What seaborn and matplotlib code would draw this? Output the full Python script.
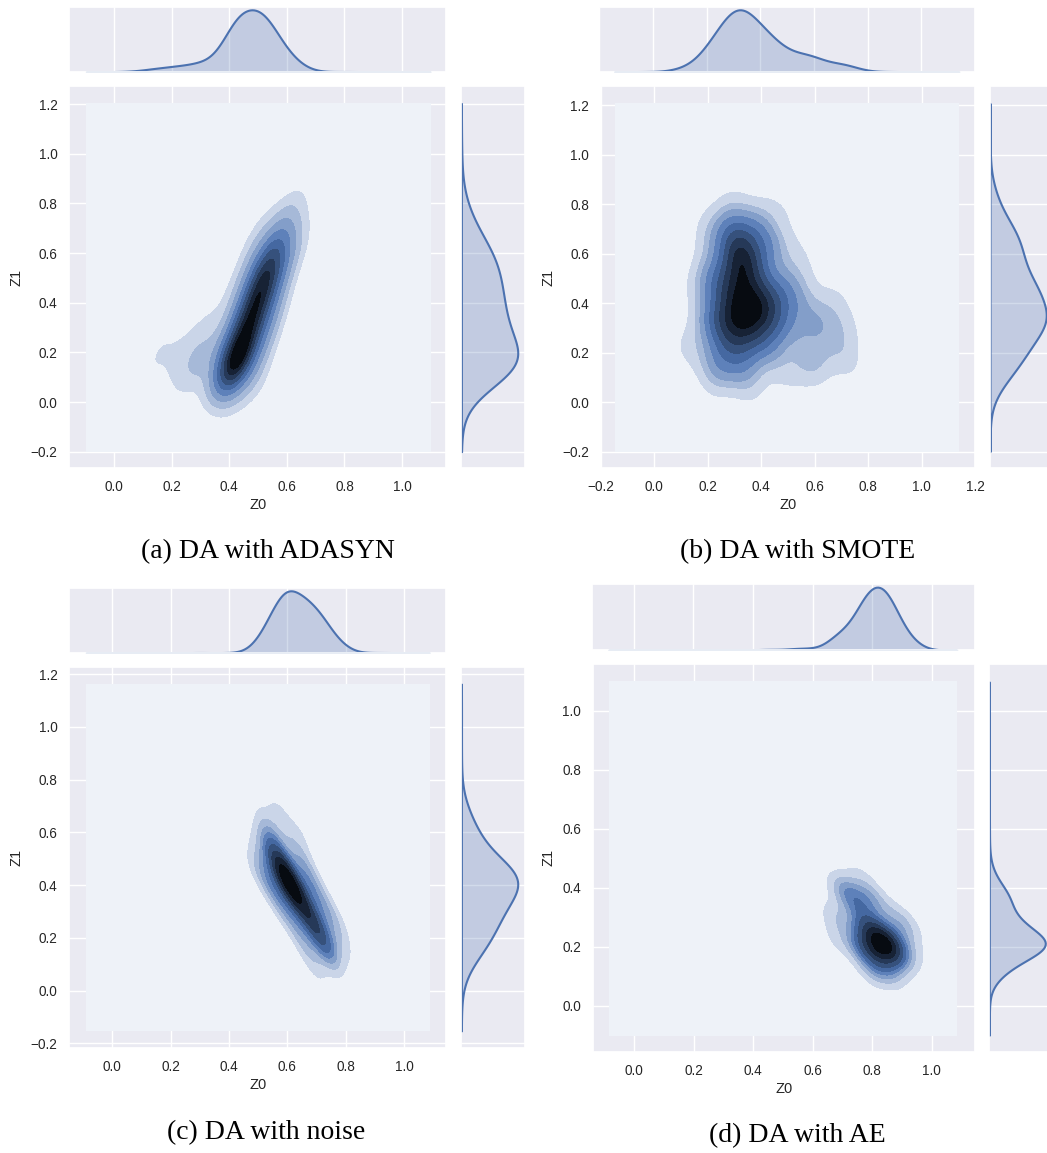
import numpy as np
import matplotlib
matplotlib.use("Agg")
import matplotlib.pyplot as plt
from matplotlib.colors import BoundaryNorm, ListedColormap
from matplotlib.ticker import MultipleLocator
import seaborn as sns

# --- latent samples (Z0, Z1) with weights ---
# (a) DA with ADASYN
ada_z0 = [0.42, 0.44, 0.47, 0.49, 0.51, 0.53, 0.55,
          0.37, 0.39, 0.42, 0.44, 0.46, 0.49,
          0.48, 0.51, 0.54, 0.56, 0.58, 0.60,
          0.58, 0.62, 0.52, 0.63, 0.64,
          0.30, 0.22, 0.14, 0.18, 0.30, 0.24, 0.34,
          0.42, 0.52,
          0.05, 0.10, 0.80, 0.90, 0.50, 1.00, 0.70, 0.20]
ada_z1 = [0.13, 0.21, 0.30, 0.38, 0.46, 0.54, 0.62,
          0.12, 0.22, 0.32, 0.42, 0.52, 0.63,
          0.10, 0.22, 0.32, 0.42, 0.52, 0.62,
          0.72, 0.80, 0.72, 0.72, 0.62,
          0.16, 0.18, 0.17, 0.25, 0.27, 0.10, 0.38,
          0.03, 0.03,
          0.30, 0.60, 0.50, 0.90, 1.00, 0.20, -0.05, 0.90]
ada_w = [9, 6, 5.5, 5.5, 5.5, 5.5, 3.5,
         3.5, 3, 2.5, 2, 1.8, 1.5,
         2.5, 2.5, 2.5, 2.5, 2.5, 2,
         1.5, 1, 0.8, 1.0, 1.0,
         2.5, 1.5, 1.2, 0.6, 1.2, 1, 0.6,
         1.2, 0.6,
         0.15, 0.12, 0.12, 0.06, 0.12, 0.06, 0.08, 0.06]

# (b) DA with SMOTE
smo_z0 = [0.32, 0.30, 0.37, 0.28, 0.35, 0.42, 0.27, 0.34, 0.41, 0.28, 0.35,
          0.21, 0.21, 0.24, 0.33, 0.43, 0.49, 0.49, 0.44, 0.38, 0.28, 0.21,
          0.14, 0.10, 0.15, 0.18, 0.22, 0.36, 0.50, 0.58, 0.62, 0.70, 0.68, 0.72, 0.60, 0.75,
          0.55, 0.55, 0.58, 0.58, 0.55, 0.45, 0.30,
          -0.05, 0.90, 0.50, 1.00, 0.10, 0.85, 0.00, 1.05]
smo_z1 = [0.63, 0.55, 0.55, 0.45, 0.45, 0.42, 0.35, 0.35, 0.34, 0.25, 0.27,
          0.50, 0.32, 0.15, 0.15, 0.22, 0.32, 0.46, 0.63, 0.71, 0.71, 0.65,
          0.22, 0.22, 0.45, 0.75, 0.07, 0.05, 0.10, 0.20, 0.32, 0.20, 0.42, 0.30, 0.12, 0.12,
          0.40, 0.55, 0.68, 0.86, 0.78, 0.80, 0.82,
          0.30, 0.50, 1.05, 0.90, -0.05, 0.10, 0.95, -0.10]
smo_w = [6, 5, 5, 5, 5, 5, 5, 5, 5, 4.5, 4.5,
         3.5, 3.5, 3.5, 3.5, 3.5, 3.5, 3.5, 3.5, 3.5, 3.5, 2,
         1.2, 0.8, 1, 0.6, 1.2, 1.5, 1.5, 2.5, 3, 2, 1.5, 1.5, 1.5, 0.8,
         2, 1.5, 0.8, 0.8, 0.8, 1.2, 1.2,
         0.1, 0.08, 0.1, 0.04, 0.05, 0.08, 0.04, 0.03]

# (c) DA with noise
noi_z0 = [0.60, 0.58, 0.63, 0.66, 0.69, 0.72, 0.74,
          0.53, 0.56, 0.60, 0.64, 0.68, 0.70,
          0.66, 0.69, 0.73, 0.77, 0.79,
          0.55, 0.54, 0.57, 0.51, 0.66, 0.63, 0.49,
          0.10, 0.30, 0.40, 0.90, 0.60, 0.95, 0.85]
noi_z1 = [0.42, 0.47, 0.37, 0.31, 0.26, 0.20, 0.14,
          0.44, 0.36, 0.30, 0.22, 0.14, 0.07,
          0.46, 0.38, 0.32, 0.25, 0.16,
          0.55, 0.62, 0.68, 0.54, 0.62, 0.55, 0.46,
          0.50, 0.60, 0.80, 0.90, 1.05, 0.00, 0.50]
noi_w = [8, 4.5, 5, 3.5, 3.5, 3.5, 2,
         2.2, 1.8, 1.6, 1.6, 1.2, 0.8,
         2.2, 1.8, 1.6, 1.4, 1.1,
         2.5, 1.5, 1.3, 1.2, 1, 1.4, 1.0,
         0.05, 0.08, 0.05, 0.04, 0.05, 0.05, 0.05]

# (d) DA with AE
ae_z0 = [0.85, 0.82, 0.87, 0.83, 0.90,
         0.78, 0.76, 0.80, 0.92, 0.88, 0.94, 0.86, 0.78, 0.80,
         0.74, 0.70, 0.68, 0.68, 0.80, 0.76,
         0.55, 0.45, 0.60, 0.10, 0.30, 0.60, 0.90, 0.95, 0.85]
ae_z1 = [0.20, 0.24, 0.22, 0.16, 0.16,
         0.28, 0.20, 0.12, 0.26, 0.30, 0.18, 0.11, 0.22, 0.20,
         0.36, 0.40, 0.30, 0.22, 0.36, 0.44,
         0.30, 0.35, 0.15, 0.50, 0.80, 1.00, 0.60, 0.00, 0.50]
ae_w = [7, 4, 2.5, 3, 1.5,
        3.5, 2.5, 2, 1.5, 1.5, 0.8, 1.5, 2, 2,
        3, 2, 1.8, 1, 2.5, 1,
        0.5, 0.25, 0.3, 0.05, 0.05, 0.03, 0.08, 0.05, 0.1]

captions = ["(a) DA with ADASYN", "(b) DA with SMOTE", "(c) DA with noise", "(d) DA with AE"]

sns.set_theme(style="darkgrid")
plt.rcParams["font.family"] = ["Liberation Sans", "DejaVu Sans"]

blue = "#4C72B0"
# old jointplot colormap: the plot colour running from white to black
shades = [sns.utils.set_hls_values(blue, l=l) for l in np.linspace(1, 0, 12)]
cmap = sns.blend_palette(shades, as_cmap=True)
n_layers = 10
layer_cmap = ListedColormap([cmap((i + 0.5) / n_layers) for i in range(n_layers)])

W, H = 1047, 1153
fig = plt.figure(figsize=(W / 100, H / 100), dpi=100)


def box(x0, y0, x1, y1):
    return [x0 / W, 1 - y1 / H, (x1 - x0) / W, (y1 - y0) / H]


def joint(z0, z1, w, bw, clip_x, clip_y, xlim, ylim, top, main, right):
    ax = fig.add_axes(box(*main))
    ax_t = fig.add_axes(box(*top))
    ax_r = fig.add_axes(box(*right))

    sns.kdeplot(x=z0, y=z1, weights=w, fill=True, levels=n_layers + 1, thresh=0,
                cmap=cmap, bw_method=bw, cut=30, clip=(clip_x, clip_y), ax=ax)
    # one shade per filled layer, like the old evenly spaced contour levels
    cset = ax.collections[0]
    cset.set_cmap(layer_cmap)
    cset.set_norm(BoundaryNorm(cset.levels, n_layers))

    sns.kdeplot(x=z0, weights=w, fill=True, color=blue, alpha=0.25, linewidth=1.5,
                bw_method=bw, cut=30, clip=clip_x, ax=ax_t)
    sns.kdeplot(y=z1, weights=w, fill=True, color=blue, alpha=0.25, linewidth=1.5,
                bw_method=bw, cut=30, clip=clip_y, ax=ax_r)

    ax.set_xlim(*xlim)
    ax.set_ylim(*ylim)
    ax.xaxis.set_major_locator(MultipleLocator(0.2))
    ax.yaxis.set_major_locator(MultipleLocator(0.2))
    ax.set_xlabel("Z0", fontsize=10.5, labelpad=3)
    ax.set_ylabel("Z1", fontsize=10.5, labelpad=5)
    ax.tick_params(labelsize=9.8, length=0, pad=8.5)

    ax_t.set_xlim(*xlim)
    ax_t.set_ylim(bottom=0)
    ax_t.xaxis.set_major_locator(MultipleLocator(0.2))
    ax_t.grid(False, axis="y")
    ax_t.tick_params(labelbottom=False, labelleft=False, length=0)
    ax_t.set_xlabel("")
    ax_t.set_ylabel("")

    ax_r.set_ylim(*ylim)
    ax_r.margins(x=0.12)
    ax_r.set_xlim(left=0)
    ax_r.yaxis.set_major_locator(MultipleLocator(0.2))
    ax_r.grid(False, axis="x")
    ax_r.tick_params(labelbottom=False, labelleft=False, length=0)
    ax_r.set_xlabel("")
    ax_r.set_ylabel("")


joint(ada_z0, ada_z1, ada_w, 0.45, (-0.096, 1.097), (-0.2, 1.203), (-0.155, 1.154), (-0.267, 1.273),
      (69.3, 6.7, 446.5, 71.7), (69.3, 86, 446.5, 468.3), (461.4, 86, 524.5, 468.3))
joint(smo_z0, smo_z1, smo_w, 0.38, (-0.143, 1.14), (-0.2, 1.207), (-0.2, 1.2), (-0.267, 1.277),
      (599.3, 6.7, 975, 71.7), (600.7, 86, 975, 468.3), (990, 86, 1053, 468.3))
joint(noi_z0, noi_z1, noi_w, 0.5, (-0.089, 1.087), (-0.153, 1.162), (-0.147, 1.146), (-0.219, 1.228),
      (69.3, 587.7, 446.5, 652.7), (69.3, 666.7, 446.5, 1048.3), (461.4, 666.7, 524.5, 1048.3))
joint(ae_z0, ae_z1, ae_w, 0.5, (-0.085, 1.085), (-0.100, 1.098), (-0.14, 1.146), (-0.156, 1.159),
      (592.3, 584, 975, 650), (592.7, 664, 975, 1051.7), (989.3, 664, 1052, 1051.7))

cap_font = ["Liberation Serif", "DejaVu Serif"]
for (cx, cy), text in zip([(268, 552), (798, 552), (266, 1133), (797, 1136)], captions):
    fig.text(cx / W, 1 - cy / H, text, ha="center", va="center", fontsize=20,
             family=cap_font, color="black")

fig.savefig("out.png", dpi=100)
